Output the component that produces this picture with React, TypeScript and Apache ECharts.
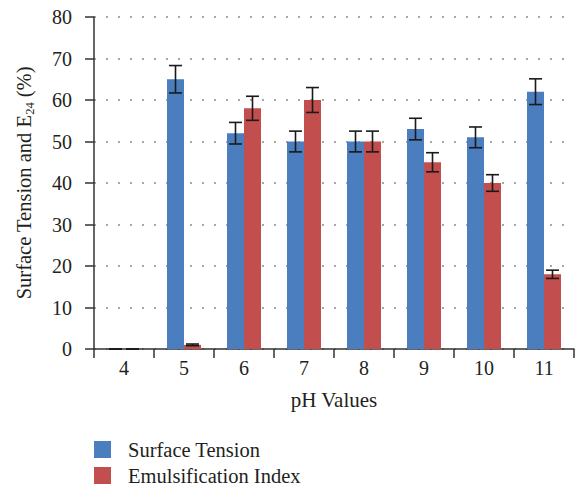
import React, { useEffect, useRef } from "react";
import * as echarts from "echarts";

// pH values on the x axis
const categories = ["4", "5", "6", "7", "8", "9", "10", "11"];
// Surface tension and its error (±)
const surfaceTension = [0, 65, 52, 50, 50, 53, 51, 62];
const surfaceTensionErr = [0, 3.3, 2.6, 2.5, 2.5, 2.6, 2.5, 3.1];
// Emulsification index E24 and its error (±)
const emulsification = [0, 1, 58, 60, 50, 45, 40, 18];
const emulsificationErr = [0, 0.2, 2.9, 3, 2.5, 2.3, 2, 1];

const BLUE = "#4a7ebe";
const RED = "#c24f4e";
const TEXT = "#231f20";
const FONT = "Liberation Serif";
const BAR_W = 17;

function errorSeries(values: number[], errs: number[], offset: number) {
  return {
    type: "custom",
    z: 5,
    silent: true,
    data: values.map((v, i) => [i, v, errs[i]]),
    encode: { x: 0, y: 1 },
    renderItem: (params: any, api: any) => {
      const i = api.value(0);
      const v = api.value(1);
      const e = api.value(2);
      const c = api.coord([i, v]);
      const x = c[0] + offset;
      const top = api.coord([i, v + e])[1];
      const bot = api.coord([i, v - e < 0 ? 0 : v - e])[1];
      const half = 6.5;
      const style = { stroke: "#1a1a1a", lineWidth: 1.6 };
      return {
        type: "group",
        children: [
          { type: "line", shape: { x1: x, y1: top, x2: x, y2: bot }, style },
          { type: "line", shape: { x1: x - half, y1: top, x2: x + half, y2: top }, style },
          { type: "line", shape: { x1: x - half, y1: bot, x2: x + half, y2: bot }, style },
        ],
      };
    },
  };
}

function legendEntry(name: string, top: number) {
  return {
    left: 94,
    top,
    padding: 0,
    itemWidth: 17,
    itemHeight: 17,
    icon: "rect",
    data: [name],
    textStyle: { fontFamily: FONT, fontSize: 20.5, color: TEXT, padding: [0, 0, 0, 12] },
  };
}

export default function App() {
  const ref = useRef<HTMLDivElement>(null);

  useEffect(() => {
    if (!ref.current) return;
    const chart = echarts.init(ref.current, undefined, { renderer: "svg" });
    chart.setOption({
      animation: false,
      backgroundColor: "#ffffff",
      textStyle: { fontFamily: FONT, color: TEXT },
      grid: { left: 94, right: 9, top: 17, bottom: 140 },
      legend: [legendEntry("Surface Tension", 439), legendEntry("Emulsification Index", 465)],
      xAxis: {
        type: "category",
        data: categories,
        name: "pH Values",
        nameLocation: "middle",
        nameGap: 40,
        nameTextStyle: { fontFamily: FONT, fontSize: 21, color: TEXT },
        axisLine: { lineStyle: { color: "#333", width: 1.5 } },
        axisTick: { show: true, length: 9, lineStyle: { color: "#333", width: 1.5 } },
        axisLabel: { margin: 9, fontFamily: FONT, fontSize: 20, color: TEXT },
      },
      yAxis: {
        type: "value",
        min: 0,
        max: 80,
        interval: 10,
        name: "{a|Surface Tension and E}{s|24}{a| (%)}",
        nameLocation: "middle",
        nameGap: 58,
        nameTextStyle: {
          fontFamily: FONT,
          color: TEXT,
          rich: {
            a: { fontFamily: FONT, fontSize: 20.5, color: TEXT, lineHeight: 24 },
            s: { fontFamily: FONT, fontSize: 12.5, color: TEXT, verticalAlign: "bottom", lineHeight: 24, padding: [7, 0, 0, 0] },
          },
        },
        axisLine: { show: true, lineStyle: { color: "#333", width: 1.5 } },
        axisTick: { show: true, length: 9, lineStyle: { color: "#333", width: 1.5 } },
        axisLabel: { margin: 22, fontFamily: FONT, fontSize: 20, color: TEXT },
        splitLine: { show: true, lineStyle: { color: "#8a8a8a", width: 1.5, type: [2, 10] } },
      },
      series: [
        {
          name: "Surface Tension",
          type: "bar",
          barWidth: BAR_W,
          barGap: "0%",
          itemStyle: { color: BLUE },
          data: surfaceTension,
        },
        {
          name: "Emulsification Index",
          type: "bar",
          barWidth: BAR_W,
          barGap: "0%",
          itemStyle: { color: RED },
          data: emulsification,
        },
        errorSeries(surfaceTension, surfaceTensionErr, -BAR_W / 2),
        errorSeries(emulsification, emulsificationErr, BAR_W / 2),
      ],
    });
    return () => chart.dispose();
  }, []);

  return (
    <div
      ref={ref}
      style={{ position: "fixed", left: 0, top: 0, width: 583, height: 489 }}
    />
  );
}
